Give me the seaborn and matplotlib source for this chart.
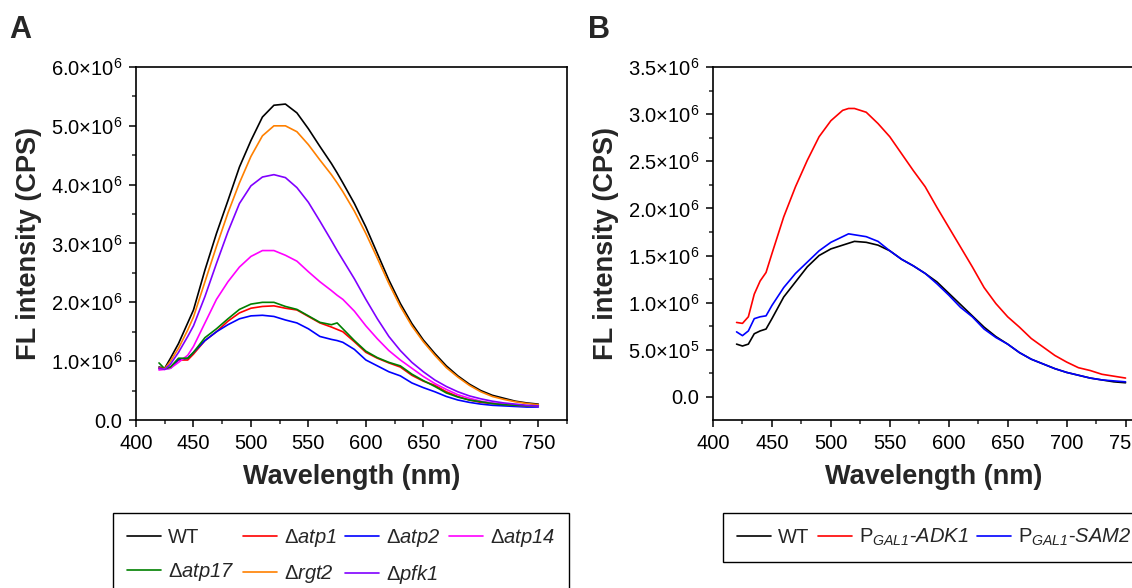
import numpy as np
import pandas as pd
import seaborn as sns
import matplotlib.pyplot as plt
from matplotlib.lines import Line2D
from matplotlib.ticker import MultipleLocator, FuncFormatter

# ---- data (in units of 1e6 CPS) ----
wl_a = [420, 425, 430, 437, 445, 450, 460, 470, 480, 490, 500, 510, 520, 530, 540,
        550, 560, 570, 575, 580, 590, 600, 610, 620, 630, 640, 650, 660, 670, 680,
        690, 700, 710, 720, 730, 740, 750]
wt_a = [0.90, 0.88, 1.05, 1.30, 1.65, 1.87, 2.55, 3.17, 3.73, 4.30, 4.75, 5.15, 5.35, 5.37, 5.22,
        4.95, 4.65, 4.36, 4.20, 4.03, 3.68, 3.28, 2.83, 2.38, 1.98, 1.64, 1.36, 1.13, 0.92, 0.75,
        0.61, 0.50, 0.42, 0.37, 0.32, 0.29, 0.27]
atp1 = [0.88, 0.88, 0.90, 1.02, 1.02, 1.12, 1.35, 1.50, 1.68, 1.82, 1.90, 1.93, 1.94, 1.90, 1.87,
        1.76, 1.65, 1.58, 1.54, 1.50, 1.33, 1.15, 1.05, 0.97, 0.90, 0.76, 0.66, 0.59, 0.48, 0.40,
        0.34, 0.30, 0.28, 0.26, 0.25, 0.24, 0.24]
atp2 = [0.87, 0.87, 0.88, 1.03, 1.05, 1.15, 1.35, 1.50, 1.62, 1.72, 1.77, 1.78, 1.76, 1.70, 1.65,
        1.55, 1.42, 1.37, 1.35, 1.32, 1.20, 1.02, 0.92, 0.82, 0.75, 0.63, 0.55, 0.48, 0.40, 0.34,
        0.30, 0.27, 0.25, 0.24, 0.23, 0.22, 0.22]
atp14 = [0.85, 0.86, 0.88, 0.98, 1.10, 1.25, 1.65, 2.05, 2.35, 2.60, 2.78, 2.88, 2.88, 2.80, 2.70,
         2.52, 2.35, 2.20, 2.12, 2.05, 1.85, 1.60, 1.38, 1.18, 1.02, 0.88, 0.74, 0.62, 0.52, 0.43,
         0.37, 0.32, 0.29, 0.27, 0.25, 0.24, 0.23]
atp17 = [0.97, 0.87, 0.90, 1.05, 1.05, 1.15, 1.40, 1.55, 1.72, 1.88, 1.97, 2.00, 2.00, 1.93, 1.88,
         1.77, 1.66, 1.62, 1.65, 1.55, 1.35, 1.17, 1.06, 0.98, 0.92, 0.78, 0.67, 0.57, 0.46, 0.39,
         0.34, 0.31, 0.28, 0.26, 0.25, 0.24, 0.24]
rgt2 = [0.88, 0.87, 1.00, 1.22, 1.53, 1.75, 2.35, 2.95, 3.52, 4.03, 4.48, 4.83, 5.00, 5.00, 4.90,
        4.68, 4.42, 4.17, 4.03, 3.88, 3.55, 3.17, 2.75, 2.32, 1.93, 1.60, 1.33, 1.10, 0.89, 0.73,
        0.59, 0.48, 0.40, 0.35, 0.31, 0.28, 0.26]
pfk1 = [0.88, 0.86, 0.95, 1.15, 1.42, 1.60, 2.10, 2.66, 3.20, 3.68, 3.98, 4.13, 4.17, 4.12, 3.95,
        3.70, 3.38, 3.05, 2.88, 2.72, 2.40, 2.05, 1.72, 1.42, 1.18, 0.98, 0.82, 0.68, 0.57, 0.48,
        0.41, 0.36, 0.32, 0.29, 0.27, 0.25, 0.24]

wl_b = [420, 425, 430, 435, 440, 445, 450, 460, 470, 480, 490, 500, 510, 515, 520, 530, 540,
        550, 560, 570, 580, 590, 600, 610, 620, 630, 640, 650, 660, 670, 680, 690, 700,
        710, 720, 730, 740, 750]
wt_b = [0.56, 0.54, 0.56, 0.67, 0.70, 0.72, 0.83, 1.06, 1.22, 1.38, 1.50, 1.57, 1.61, 1.63, 1.65,
        1.64, 1.61, 1.55, 1.46, 1.39, 1.31, 1.22, 1.10, 0.98, 0.86, 0.74, 0.64, 0.56, 0.47, 0.40,
        0.35, 0.30, 0.26, 0.23, 0.20, 0.18, 0.16, 0.15]
adk1 = [0.79, 0.78, 0.85, 1.09, 1.23, 1.32, 1.52, 1.91, 2.23, 2.51, 2.76, 2.93, 3.04, 3.06, 3.06,
        3.02, 2.90, 2.76, 2.58, 2.40, 2.23, 2.01, 1.80, 1.59, 1.38, 1.16, 0.99, 0.85, 0.74, 0.62,
        0.53, 0.44, 0.37, 0.31, 0.28, 0.24, 0.22, 0.20]
sam2 = [0.69, 0.65, 0.70, 0.83, 0.85, 0.86, 0.97, 1.16, 1.31, 1.43, 1.55, 1.64, 1.70, 1.73, 1.72,
        1.70, 1.65, 1.55, 1.46, 1.39, 1.31, 1.20, 1.08, 0.95, 0.85, 0.72, 0.63, 0.56, 0.47, 0.40,
        0.35, 0.30, 0.26, 0.23, 0.20, 0.18, 0.17, 0.16]

labels_a = ['WT', r'Δ$atp1$', r'Δ$atp2$', r'Δ$atp14$', r'Δ$atp17$', r'Δ$rgt2$', r'Δ$pfk1$']
series_a = [wt_a, atp1, atp2, atp14, atp17, rgt2, pfk1]
colors_a = ['#000000', '#ff0000', '#0000ff', '#ff00ff', '#008000', '#ff8000', '#8000ff']

labels_b = ['WT', r'P$_{GAL1}$-$ADK1$', r'P$_{GAL1}$-$SAM2$']
series_b = [wt_b, adk1, sam2]
colors_b = ['#000000', '#ff0000', '#0000ff']

# ---- style ----
sns.set_style('ticks')
plt.rcParams['font.family'] = ['Liberation Sans', 'DejaVu Sans']
# math text is only used for the italic gene names -> make all of it italic
plt.rcParams['mathtext.fontset'] = 'custom'
plt.rcParams['mathtext.rm'] = 'Liberation Sans:italic'
plt.rcParams['mathtext.it'] = 'Liberation Sans:italic'
plt.rcParams['mathtext.bf'] = 'Liberation Sans:bold'


def long_form(wl, series, labels):
    frames = [pd.DataFrame({'wl': wl, 'fl': np.array(s) * 1e6, 'strain': lab})
              for s, lab in zip(series, labels)]
    return pd.concat(frames, ignore_index=True)


def sci_fmt(v, pos):
    if abs(v) < 1e-9:
        return '0.0'
    e = int(np.floor(np.log10(abs(v))))
    m = v / 10 ** e
    return f'{m:.1f}×10$^{{\\mathdefault{{{e}}}}}$'


def style_axes(ax, ymaj, ymin):
    ax.xaxis.set_major_locator(MultipleLocator(50))
    ax.xaxis.set_minor_locator(MultipleLocator(25))
    ax.yaxis.set_major_locator(MultipleLocator(ymaj))
    ax.yaxis.set_minor_locator(MultipleLocator(ymin))
    ax.yaxis.set_major_formatter(FuncFormatter(sci_fmt))
    ax.tick_params(which='major', direction='out', length=5, width=1.1, labelsize=14.5,
                   top=False, right=False, pad=5, colors='black')
    ax.tick_params(which='minor', direction='out', length=3, width=1.1, top=False, right=False)
    for sp in ax.spines.values():
        sp.set_visible(True)
        sp.set_linewidth(1.2)
        sp.set_color('black')
    ax.set_xlabel('Wavelength (nm)', fontsize=19.5, fontweight='bold', labelpad=8)
    ax.set_ylabel('FL intensity (CPS)', fontsize=19.5, fontweight='bold', labelpad=6)


fig = plt.figure(figsize=(11.32, 5.88), dpi=100)

# ---- panel A ----
ax_a = fig.add_axes([136 / 1132, 1 - 420 / 588, 431 / 1132, 353 / 588])
df_a = long_form(wl_a, series_a, labels_a)
sns.lineplot(data=df_a, x='wl', y='fl', hue='strain', palette=colors_a, sort=False,
             legend=False, linewidth=1.2, ax=ax_a)
ax_a.set_xlim(400, 775)
ax_a.set_ylim(0, 6e6)
style_axes(ax_a, 1e6, 5e5)

# ---- panel B ----
ax_b = fig.add_axes([713 / 1132, 1 - 420 / 588, 442 / 1132, 353 / 588])
df_b = long_form(wl_b, series_b, labels_b)
sns.lineplot(data=df_b, x='wl', y='fl', hue='strain', palette=colors_b, sort=False,
             legend=False, linewidth=1.2, ax=ax_b)
ax_b.set_xlim(400, 775)
ax_b.set_ylim(-2.45e5, 3.5e6)
style_axes(ax_b, 5e5, 2.5e5)

# ---- panel letters ----
fig.text(9 / 1132, 1 - 38 / 588, 'A', fontsize=22, fontweight='bold')
fig.text(588 / 1132, 1 - 38 / 588, 'B', fontsize=22, fontweight='bold')

# ---- legends (matplotlib fills columns first, so reorder for row-wise reading) ----
leg_kw = dict(frameon=True, fancybox=False, shadow=False, edgecolor='black', fontsize=14.5,
              handlelength=1.7, handletextpad=0.35, borderpad=0.7, framealpha=1,
              borderaxespad=0)
order_a = [0, 4, 1, 5, 2, 6, 3]
h_a = [Line2D([], [], color=colors_a[i], lw=1.2) for i in order_a]
leg_a = fig.legend(h_a, [labels_a[i] for i in order_a], loc='upper left',
                   bbox_to_anchor=(113 / 1132, 1 - 513 / 588),
                   ncol=4, columnspacing=0.4, labelspacing=0.7, **leg_kw)
leg_a.get_frame().set_linewidth(1.0)
h_b = [Line2D([], [], color=c, lw=1.2) for c in colors_b]
leg_b = fig.legend(h_b, labels_b, loc='upper left', bbox_to_anchor=(723 / 1132, 1 - 513 / 588),
                   ncol=3, columnspacing=0.4, **leg_kw)
leg_b.get_frame().set_linewidth(1.0)

fig.savefig('out.png', dpi=100)
